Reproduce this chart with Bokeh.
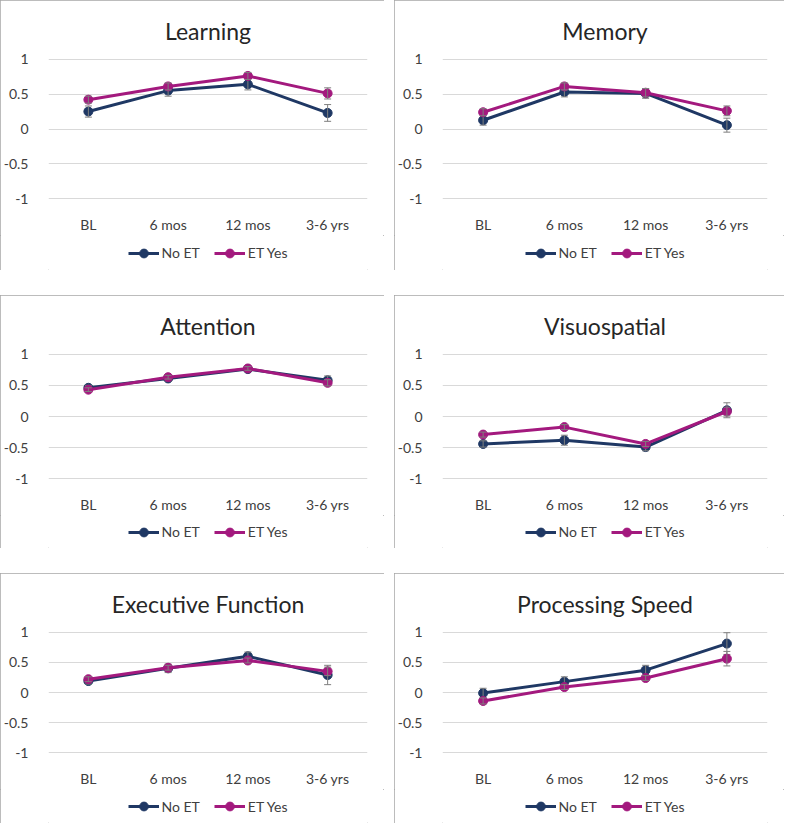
from bokeh.plotting import figure
from bokeh.models import ColumnDataSource, Range1d, FixedTicker
from bokeh.layouts import column, row
from bokeh.embed import file_html
from bokeh.resources import INLINE

categories = ["BL", "6 mos", "12 mos", "3-6 yrs"]
series_names = ["No ET", "ET Yes"]
y_ticks = [-1, -0.5, 0, 0.5, 1]
y_tick_labels = ["-1", "-0.5", "0", "0.5", "1"]

titles = ["Learning", "Memory", "Attention", "Visuospatial", "Executive Function", "Processing Speed"]

learning_no = [0.25, 0.55, 0.64, 0.23]
learning_no_err = [0.08, 0.08, 0.08, 0.12]
learning_yes = [0.42, 0.61, 0.76, 0.51]
learning_yes_err = [0.05, 0.05, 0.05, 0.08]

memory_no = [0.125, 0.53, 0.51, 0.055]
memory_no_err = [0.07, 0.07, 0.07, 0.10]
memory_yes = [0.24, 0.61, 0.52, 0.26]
memory_yes_err = [0.05, 0.05, 0.06, 0.07]

attention_no = [0.46, 0.61, 0.76, 0.58]
attention_no_err = [0.04, 0.04, 0.04, 0.07]
attention_yes = [0.43, 0.63, 0.77, 0.54]
attention_yes_err = [0.03, 0.03, 0.03, 0.05]

visuo_no = [-0.44, -0.38, -0.49, 0.10]
visuo_no_err = [0.05, 0.08, 0.06, 0.12]
visuo_yes = [-0.29, -0.17, -0.44, 0.08]
visuo_yes_err = [0.04, 0.04, 0.04, 0.07]

exec_no = [0.19, 0.40, 0.60, 0.29]
exec_no_err = [0.05, 0.07, 0.07, 0.16]
exec_yes = [0.22, 0.41, 0.53, 0.35]
exec_yes_err = [0.04, 0.04, 0.04, 0.07]

speed_no = [-0.01, 0.18, 0.37, 0.81]
speed_no_err = [0.08, 0.08, 0.08, 0.18]
speed_yes = [-0.14, 0.09, 0.24, 0.56]
speed_yes_err = [0.05, 0.04, 0.04, 0.12]

panel_data = [
    (learning_no, learning_no_err, learning_yes, learning_yes_err),
    (memory_no, memory_no_err, memory_yes, memory_yes_err),
    (attention_no, attention_no_err, attention_yes, attention_yes_err),
    (visuo_no, visuo_no_err, visuo_yes, visuo_yes_err),
    (exec_no, exec_no_err, exec_yes, exec_yes_err),
    (speed_no, speed_no_err, speed_yes, speed_yes_err),
]

COLORS = ["#1f3864", "#a3197e"]
FONT = "Lato"
TEXT = "#404040"
ERR = "#7f7f7f"

# (top border, frame height, bottom border, legend strip height) per row
row_geo = [(57, 142, 36, 35), (57, 127, 36, 33), (56, 124, 36, 34)]
col_w = [384, 390]


def make_panel(idx):
    r, c = divmod(idx, 2)
    t, fh, bb, lh = row_geo[r]
    w = col_w[c]
    p = figure(x_range=categories, y_range=Range1d(-1.01, 1.01), width=w, height=t + fh + bb,
               output_backend="svg", toolbar_location=None,
               min_border_left=48, min_border_right=17, min_border_top=t,
               min_border_bottom=bb)
    p.title.text = titles[idx]
    p.title.align = "center"
    p.title.text_font = FONT
    p.title.text_font_style = "normal"
    p.title.text_font_size = "23px"
    p.title.text_color = "#262626"
    p.title.standoff = 28
    p.outline_line_color = None
    p.xgrid.grid_line_color = None
    p.ygrid.grid_line_color = "#d9d9d9"
    p.ygrid.grid_line_width = 1
    p.yaxis.ticker = FixedTicker(ticks=y_ticks)
    p.yaxis.major_label_overrides = {t_: l for t_, l in zip(y_ticks, y_tick_labels)}
    for ax in (p.xaxis[0], p.yaxis[0]):
        ax.axis_line_color = None
        ax.major_tick_line_color = None
        ax.minor_tick_line_color = None
        ax.major_label_text_font = FONT
        ax.major_label_text_font_size = "14px"
        ax.major_label_text_color = TEXT
    p.yaxis.major_label_standoff = 14
    p.xaxis.major_label_standoff = 10

    # legend strip below the chart (its glyphs sit outside its own ranges, so only the legend shows)
    lg = figure(width=w, height=lh, x_range=Range1d(0, 1), y_range=Range1d(0, 1),
                output_backend="svg", toolbar_location=None,
                x_axis_location=None, y_axis_location=None, min_border=0)
    lg.outline_line_color = None
    lg.grid.visible = False

    no, no_err, yes, yes_err = panel_data[idx]
    for vals, errs, color, name in ((no, no_err, COLORS[0], series_names[0]),
                                    (yes, yes_err, COLORS[1], series_names[1])):
        src = ColumnDataSource(dict(x=categories, y=vals,
                                    lo=[v - e for v, e in zip(vals, errs)],
                                    hi=[v + e for v, e in zip(vals, errs)]))
        p.line("x", "y", source=src, line_color=color, line_width=3)
        p.scatter("x", "y", source=src, size=9, fill_color=color, line_color=color)
        p.segment(x0="x", y0="lo", x1="x", y1="hi", source=src, line_color=ERR, line_width=1)
        p.scatter("x", "lo", source=src, marker="dash", size=7, line_color=ERR, line_width=1)
        p.scatter("x", "hi", source=src, marker="dash", size=7, line_color=ERR, line_width=1)
        lg.line(x=[-5, -4], y=[-5, -5], line_color=color, line_width=3, legend_label=name)
        lg.scatter(x=[-5], y=[-5], size=9, fill_color=color, line_color=color, legend_label=name)

    leg = lg.legend[0]
    leg.orientation = "horizontal"
    leg.location = "center"
    leg.label_text_font = FONT
    leg.label_text_font_size = "14px"
    leg.label_text_color = TEXT
    leg.glyph_width = 31
    leg.glyph_height = 22
    leg.label_standoff = 3
    leg.spacing = 14
    leg.padding = 0
    leg.margin = 0
    leg.border_line_color = None
    leg.background_fill_alpha = 0

    panel = column(p, lg, spacing=0)
    panel.styles = {"outline": "1px solid #a6a6a6", "outline-offset": "-1px"}
    return panel


panels = [make_panel(i) for i in range(6)]
rows = [row(panels[2 * i], panels[2 * i + 1], spacing=10) for i in range(3)]
layout = column(*rows, spacing=25)

open("out.html", "w").write(file_html(layout, INLINE))
